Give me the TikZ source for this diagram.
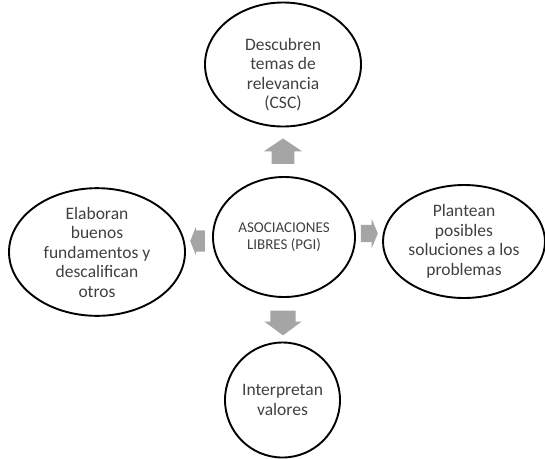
\documentclass[tikz,border=0pt]{standalone}
\usepackage{fontspec}
\setmainfont{Carlito}
\usetikzlibrary{shapes.geometric,shapes.arrows}
\definecolor{txtgray}{HTML}{404040}
\definecolor{arrgray}{HTML}{A5A5A5}
\begin{document}
\begin{tikzpicture}[x=1pt,y=-1pt,
  bubble/.style={draw=black,line width=1.9pt,ellipse,inner sep=0pt,
    align=center,text=txtgray,font=\fontsize{17.5}{19.5}\selectfont},
  bubbletext/.style={inner sep=0pt,align=center,text=txtgray,
    font=\fontsize{17.5}{19.5}\selectfont},
  blockarrow/.style={single arrow,fill=arrgray,draw=none,
    text height=0pt,text depth=0pt,single arrow head indent=0pt},
  % vertical arrows: the shaft width comes from the horizontal separation
  vshaft/.style={blockarrow,inner xsep=#1,inner ysep=0pt},
  hshaft/.style={blockarrow,inner ysep=#1,inner xsep=0pt}]
\useasboundingbox (0,0) rectangle (545,458);

% five ideas
\node[bubble,minimum width=156pt,minimum height=124pt] (top) at (283,64.5) {};
\node[bubbletext] (toptext) at ([yshift=-10pt]top.center)
  {Descubren\\temas de\\relevancia\\(CSC)};
\node[bubble,minimum width=142pt,minimum height=120pt,
  font=\fontsize{15}{17.5}\selectfont] (mid) at (284,237)
  {ASOCIACIONES\\LIBRES (PGI)};
\node[bubble,minimum width=176pt,minimum height=118pt] (left) at (97,252)
  {Elaboran\\buenos\\fundamentos y\\descalifican\\otros};
\node[bubble,minimum width=162pt,minimum height=113pt] (right) at (464,241.5)
  {Plantean\\posibles\\soluciones a los\\problemas};
\node[bubble,circle,minimum size=115pt] (bottom) at (282.5,400)
  {Interpretan\\valores};

% block arrows pointing out of the centre
\node[vshaft=11.2pt,shape border rotate=90,minimum height=25.4pt,
  single arrow head extend=7.7pt,single arrow tip angle=112] (aup) at (283,155) {};
\node[vshaft=12.5pt,shape border rotate=270,minimum height=24.7pt,
  single arrow head extend=5.9pt,single arrow tip angle=107] (adown) at (283,318.3) {};
\node[hshaft=8.5pt,shape border rotate=0,minimum height=17pt,
  single arrow head extend=6pt,single arrow tip angle=135] (aright) at (367.5,233.5) {};
\node[hshaft=10.5pt,shape border rotate=180,minimum height=14.7pt,
  single arrow head extend=3.5pt,single arrow tip angle=136] (aleft) at (199.7,241) {};
\end{tikzpicture}
\end{document}
